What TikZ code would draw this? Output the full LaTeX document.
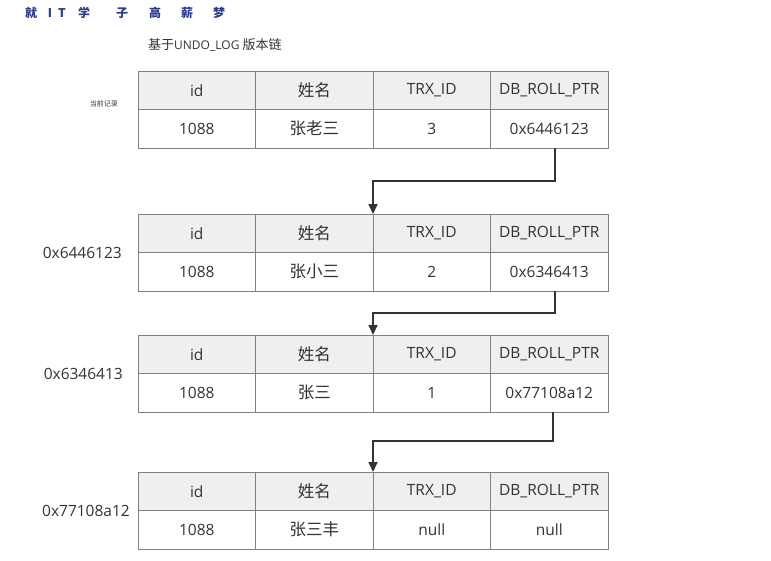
\documentclass[tikz,border=0pt]{standalone}
\usepackage{fontspec}
\setmainfont{Open Sans}
\newfontfamily\cjk{Noto Sans CJK SC}
\newcommand\zh[1]{{\cjk\fontsize{16.5}{18}\selectfont #1}}
\usepackage{tikz}
\usetikzlibrary{arrows.meta, positioning, calc}

\definecolor{gridline}{RGB}{128,128,128}
\definecolor{headfill}{RGB}{239,239,239}
\definecolor{txt}{RGB}{51,51,51}
\definecolor{logoblue}{RGB}{40,60,140}

\begin{document}
\begin{tikzpicture}[
    x=1pt, y=-1pt,
    font=\fontsize{15.5}{18}\selectfont, text=txt,
    head/.style={rectangle, draw=gridline, fill=headfill, line width=0.9pt, minimum width=117.5pt, minimum height=38.5pt, inner sep=0pt, outer sep=0pt},
    cell/.style={head, fill=white},
    addr/.style={font=\fontsize{15.5}{18}\selectfont, inner sep=0pt},
    link/.style={-{Triangle[length=10pt, width=9pt]}, line width=1.7pt, draw=black!80}
]
    \useasboundingbox (0,0) rectangle (771,560);

    % Logo and title
    \foreach \c/\x [count=\i] in {就/31, I/50, T/62, 学/84, 子/122, 高/155, 薪/187, 梦/219}
        \node[font=\cjk\bfseries\fontsize{12}{14}\selectfont, text=logoblue] (logo-\i) at (\x,13) {\c};
    \node[font=\fontsize{12}{15}\selectfont, anchor=west, inner sep=0pt] (title) at (148,45) {{\cjk\fontsize{13}{15}\selectfont 基于}UNDO\_LOG {\cjk\fontsize{13}{15}\selectfont 版本链}};

    % Records
    \foreach \r/\top/\name/\trx/\ptr in {1/71/张老三/3/0x6446123, 2/214/张小三/2/0x6346413, 3/335/张三/1/0x77108a12, 4/472/张三丰/null/null} {
        \node[head] (r\r-id-h)  at (196.75,\top+19.25) {id};
        \node[head] (r\r-nm-h)  at (314.25,\top+19.25) {\zh{姓名}};
        \node[head] (r\r-trx-h) at (431.75,\top+19.25) {TRX\_ID};
        \node[head] (r\r-ptr-h) at (549.25,\top+19.25) {DB\_ROLL\_PTR};
        \node[cell, below=0pt of r\r-id-h]  (r\r-id)  {1088};
        \node[cell, below=0pt of r\r-nm-h]  (r\r-nm)  {\zh{\name}};
        \node[cell, below=0pt of r\r-trx-h] (r\r-trx) {\trx};
        \node[cell, below=0pt of r\r-ptr-h] (r\r-ptr) {\ptr};
    }

    % Addresses
    \node[font=\cjk\fontsize{7}{8}\selectfont, inner sep=0pt, left=20pt of r1-id-h.south west, yshift=6pt] (cur) {当前记录};
    \node[addr, left=16pt of r2-id-h.south west] (a2) {0x6446123};
    \node[addr, left=15pt of r3-id-h.south west] (a3) {0x6346413};
    \node[addr, left=8pt of r4-id-h.south west] (a4) {0x77108a12};

    % Roll pointers
    \draw[link] ([xshift=6pt]r1-ptr.south) -- ++(0,33) -| (r2-trx-h.north west);
    \draw[link] ([xshift=6pt]r2-ptr.south) -- ++(0,22) -| (r3-trx-h.north west);
    \draw[link] ([xshift=4pt]r3-ptr.south) -- ++(0,29) -| (r4-trx-h.north west);
\end{tikzpicture}
\end{document}
